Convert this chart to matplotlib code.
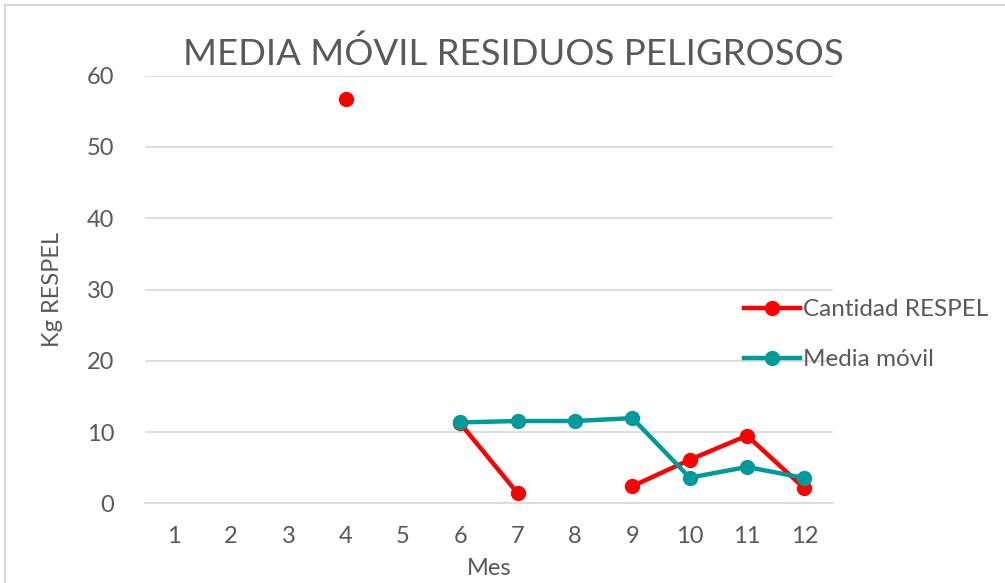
import matplotlib.pyplot as plt
import numpy as np
from matplotlib.lines import Line2D

plt.rcParams['font.family'] = ['Lato', 'DejaVu Sans']

# meses del año y datos (nan = mes sin dato)
meses = [1, 2, 3, 4, 5, 6, 7, 8, 9, 10, 11, 12]
cantidad_respel = [np.nan, np.nan, np.nan, 56.8, np.nan, 11.2, 1.4, np.nan, 2.4, 6.1, 9.5, 2.1]
media_movil = [np.nan, np.nan, np.nan, np.nan, np.nan, 11.35, 11.55, 11.55, 11.95, 3.6, 5.1, 3.55]
y_ticks = [0, 10, 20, 30, 40, 50, 60]

gris = '#595959'
rojo = '#FF0000'
verde = '#009A9A'

fig = plt.figure(figsize=(10.05, 5.83), dpi=100)
ax = fig.add_axes([0.1443, 0.1367, 0.6846, 0.7334])

ax.plot(meses, cantidad_respel, color=rojo, lw=3.2, marker='o', ms=10, zorder=3,
        label='Cantidad RESPEL')
ax.plot(meses, media_movil, color=verde, lw=3.2, marker='o', ms=10, zorder=4,
        label='Media móvil')

ax.set_xlim(0.5, 12.5)
ax.set_ylim(0, 60)
ax.set_xticks(meses)
ax.set_yticks(y_ticks)
ax.grid(axis='y', color='#D9D9D9', lw=1.2)
ax.set_axisbelow(True)
for s in ['top', 'right', 'left']:
    ax.spines[s].set_visible(False)
ax.spines['bottom'].set_color('#D9D9D9')
ax.spines['bottom'].set_linewidth(1.2)
ax.tick_params(axis='both', length=0, labelsize=17, colors=gris)
ax.tick_params(axis='x', pad=16)
ax.tick_params(axis='y', pad=22)

ax.set_xlabel('Mes', fontsize=17, color=gris, labelpad=8)
ax.set_ylabel('Kg RESPEL', fontsize=17, color=gris, labelpad=17)
fig.text(0.511, 0.908, 'MEDIA MÓVIL RESIDUOS PELIGROSOS', ha='center', va='center',
         fontsize=26.3, color=gris)

leg = fig.legend(loc='center left', bbox_to_anchor=(0.719, 0.426), frameon=False,
                 fontsize=17.5, labelcolor=gris, handlelength=2.3, handletextpad=0.1,
                 labelspacing=1.2)

# borde del recuadro del gráfico
fig.add_artist(Line2D([0.005, 1.0], [0.991, 0.991], color='#D9D9D9', lw=1.5))
fig.add_artist(Line2D([0.005, 0.005], [0.0, 0.991], color='#D9D9D9', lw=1.5))

fig.savefig('out.png', dpi=100)
